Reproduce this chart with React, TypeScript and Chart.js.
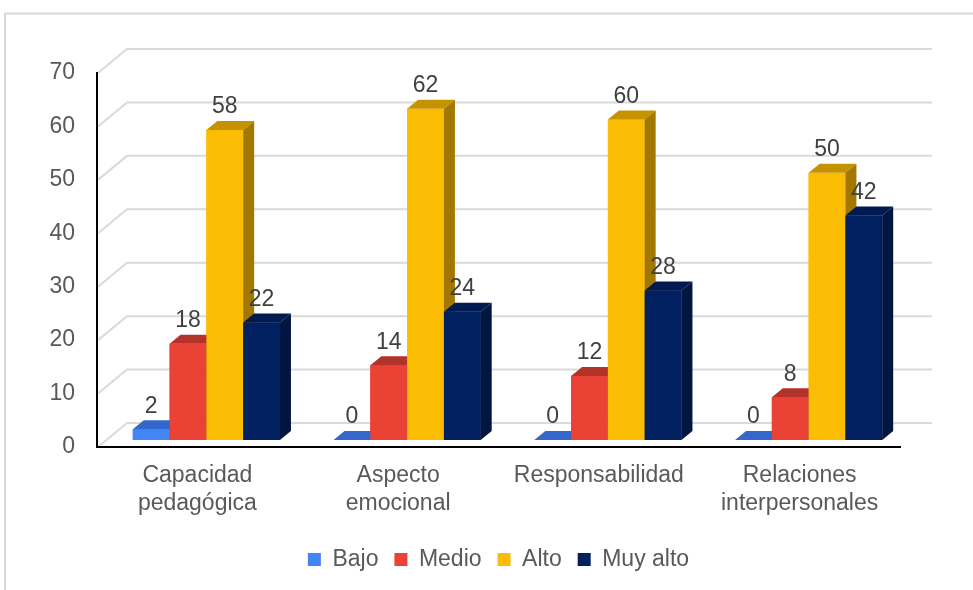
import { useEffect, useRef } from 'react';
import { Chart, registerables } from 'chart.js';

Chart.register(...registerables);

// ---- data ----
const categories: string[][] = [
  ['Capacidad', 'pedagógica'],
  ['Aspecto', 'emocional'],
  ['Responsabilidad'],
  ['Relaciones', 'interpersonales'],
];
const seriesNames = ['Bajo', 'Medio', 'Alto', 'Muy alto'];
const bajo = [2, 0, 0, 0];
const medio = [18, 14, 12, 8];
const alto = [58, 62, 60, 50];
const muyAlto = [22, 24, 28, 42];
const yMin = 0;
const yMax = 70;
const yStep = 10;

// ---- styles ----
const FONT = 'Liberation Sans, Arial, sans-serif';
const FS = 23;
const frontColors = ['#4285F4', '#EA4335', '#FBBC04', '#002060'];
const topColors = ['#3367CC', '#B3322A', '#C69300', '#001B52'];
const sideColors = ['#2A56AB', '#93291F', '#A27800', '#00153F'];
const WALL_DX = 30;
const WALL_DY = 24;
const BAR_OFF_DX = 9;
const BAR_OFF_DY = 7;
const BAR_DX = 11;
const BAR_DY = 9;

const threeD = {
  id: 'threeD',
  beforeDraw(chart: any) {
    const { ctx, chartArea, scales } = chart;
    ctx.save();
    ctx.fillStyle = '#ffffff';
    ctx.fillRect(0, 0, chart.width, chart.height);
    // outer frame
    ctx.strokeStyle = '#d9d9d9';
    ctx.lineWidth = 2;
    ctx.beginPath();
    ctx.moveTo(5, chart.height);
    ctx.lineTo(5, 13.5);
    ctx.lineTo(chart.width, 13.5);
    ctx.stroke();
    // 3D back-wall grid
    const ys = scales.y;
    ctx.strokeStyle = '#dadada';
    ctx.lineWidth = 2;
    ys.ticks.forEach((t: any) => {
      const py = ys.getPixelForValue(t.value);
      ctx.beginPath();
      ctx.moveTo(chartArea.left + 1, py);
      ctx.lineTo(chartArea.left + WALL_DX, py - WALL_DY);
      ctx.lineTo(chartArea.right + 32, py - WALL_DY);
      ctx.stroke();
    });
    ctx.restore();
  },
  beforeDatasetsDraw(chart: any) {
    chart.ctx.save();
    chart.ctx.translate(BAR_OFF_DX, -BAR_OFF_DY);
  },
  afterDatasetsDraw(chart: any) {
    const ctx = chart.ctx;
    const labels: { x: number; y: number; t: string }[] = [];
    chart.data.datasets.forEach((ds: any, di: number) => {
      const meta = chart.getDatasetMeta(di);
      meta.data.forEach((el: any, i: number) => {
        const { x, y, base, width } = el.getProps(['x', 'y', 'base', 'width'], true);
        const l = x - width / 2;
        const r = x + width / 2;
        // front
        ctx.fillStyle = frontColors[di];
        ctx.fillRect(l, y, width, base - y);
        // top
        ctx.fillStyle = topColors[di];
        ctx.beginPath();
        ctx.moveTo(l, y);
        ctx.lineTo(r, y);
        ctx.lineTo(r + BAR_DX, y - BAR_DY);
        ctx.lineTo(l + BAR_DX, y - BAR_DY);
        ctx.closePath();
        ctx.fill();
        // side
        ctx.fillStyle = sideColors[di];
        ctx.beginPath();
        ctx.moveTo(r, y);
        ctx.lineTo(r + BAR_DX, y - BAR_DY);
        ctx.lineTo(r + BAR_DX, base - BAR_DY);
        ctx.lineTo(r, base);
        ctx.closePath();
        ctx.fill();
        labels.push({ x, y: y - 23, t: String(ds.data[i]) });
      });
    });
    ctx.fillStyle = '#404040';
    ctx.font = `${FS}px ${FONT}`;
    ctx.textAlign = 'center';
    ctx.textBaseline = 'middle';
    labels.forEach((lb) => ctx.fillText(lb.t, lb.x, lb.y));
    ctx.restore();
  },
};

export default function App() {
  const ref = useRef<HTMLCanvasElement | null>(null);
  useEffect(() => {
    if (!ref.current) return;
    const series = [bajo, medio, alto, muyAlto];
    const chart = new Chart(ref.current, {
      type: 'bar',
      data: {
        labels: categories,
        datasets: series.map((d, i) => ({
          label: seriesNames[i],
          data: d,
          backgroundColor: frontColors[i],
          borderWidth: 0,
          categoryPercentage: 0.733,
          barPercentage: 1,
        })),
      },
      options: {
        responsive: false,
        animation: false,
        events: [],
        layout: { padding: { top: 73, right: 73, bottom: 9, left: 0 } },
        scales: {
          x: {
            grid: { display: false, drawTicks: false },
            border: { display: true, color: '#000000', width: 2 },
            ticks: { color: '#595959', font: { family: FONT, size: FS }, padding: 15, maxRotation: 0 },
            afterFit: (s: any) => { s.height = 85; },
          },
          y: {
            min: yMin,
            max: yMax,
            grid: { display: false, drawTicks: false },
            border: { display: true, color: '#000000', width: 2 },
            ticks: { stepSize: yStep, color: '#595959', font: { family: FONT, size: FS }, padding: 22 },
            afterFit: (s: any) => { s.width = 97; },
          },
        },
        plugins: {
          legend: {
            position: 'bottom',
            fullSize: false,
            labels: {
              color: '#595959',
              font: { family: FONT, size: FS },
              boxWidth: 13,
              boxHeight: 13,
              padding: 16,
            },
          },
          tooltip: { enabled: false },
        },
      },
      plugins: [threeD],
    } as any);
    return () => chart.destroy();
  }, []);
  return (
    <div style={{ position: 'fixed', left: 0, top: 0, width: 973, height: 590, background: '#fff' }}>
      <canvas ref={ref} width={973} height={590} style={{ display: 'block' }} />
    </div>
  );
}
